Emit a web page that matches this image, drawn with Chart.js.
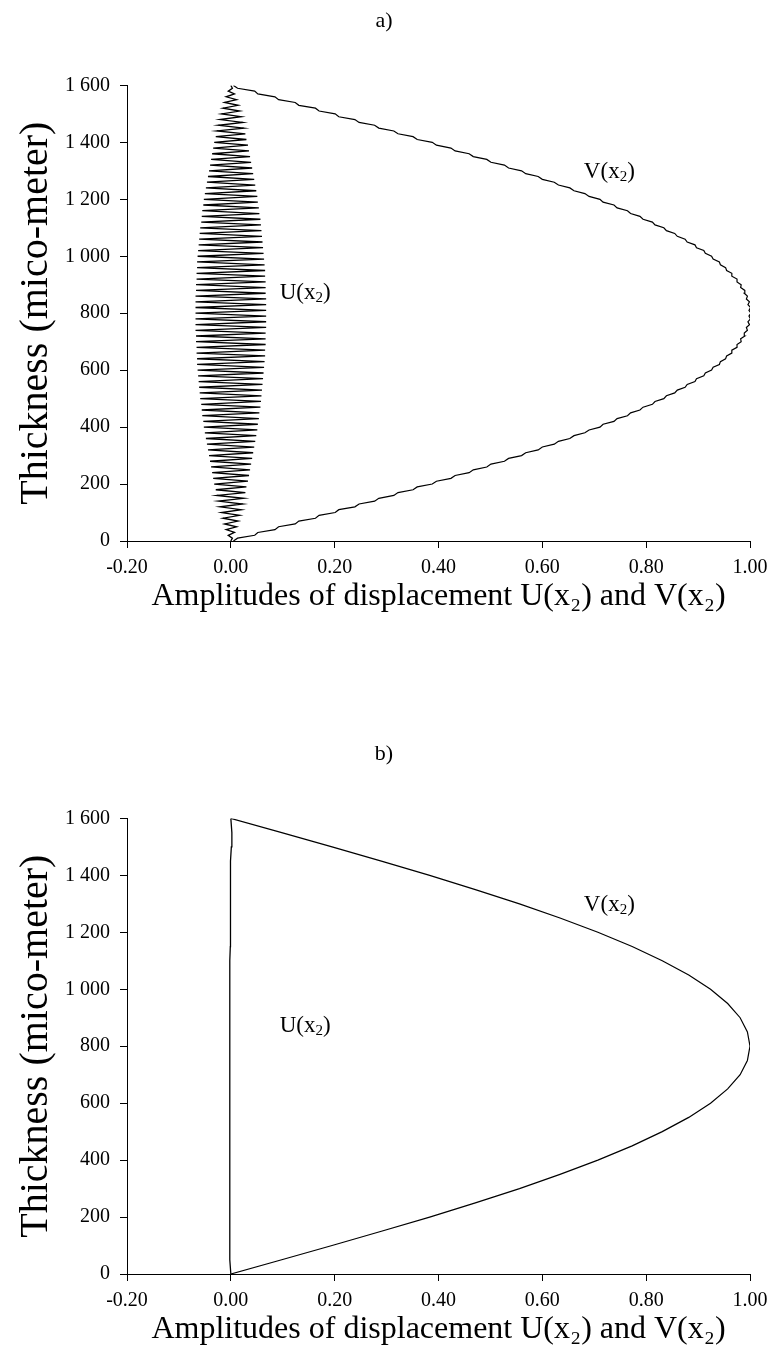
<!DOCTYPE html>
<html>
<head>
<meta charset="utf-8">
<script src="https://cdn.jsdelivr.net/npm/chart.js@4.4.1/dist/chart.umd.min.js"></script>
<style>
  body { margin: 0; background: #fff; }
  .panel { position: absolute; left: 0; width: 768px; height: 620px; }
  #panelA { top: 0; }
  #panelB { top: 733px; }
</style>
</head>
<body>
<div class="panel" id="panelA"><canvas id="chartA"></canvas></div>
<div class="panel" id="panelB"><canvas id="chartB"></canvas></div>
<script>
// Thickness (y) values, panel a
const thicknessA = [
  0, 10, 20, 30, 40, 50, 60, 70, 80, 90, 100, 110, 120, 130, 140, 150, 160, 170, 180, 190, 200,
  210, 220, 230, 240, 250, 260, 270, 280, 290, 300, 310, 320, 330, 340, 350, 360, 370, 380, 390, 400,
  410, 420, 430, 440, 450, 460, 470, 480, 490, 500, 510, 520, 530, 540, 550, 560, 570, 580, 590, 600,
  610, 620, 630, 640, 650, 660, 670, 680, 690, 700, 710, 720, 730, 740, 750, 760, 770, 780, 790, 800,
  810, 820, 830, 840, 850, 860, 870, 880, 890, 900, 910, 920, 930, 940, 950, 960, 970, 980, 990, 1000,
  1010, 1020, 1030, 1040, 1050, 1060, 1070, 1080, 1090, 1100, 1110, 1120, 1130, 1140, 1150, 1160, 1170, 1180, 1190, 1200,
  1210, 1220, 1230, 1240, 1250, 1260, 1270, 1280, 1290, 1300, 1310, 1320, 1330, 1340, 1350, 1360, 1370, 1380, 1390, 1400,
  1410, 1420, 1430, 1440, 1450, 1460, 1470, 1480, 1490, 1500, 1510, 1520, 1530, 1540, 1550, 1560, 1570, 1580, 1590, 1600
];
// U(x2) amplitude, panel a (zigzag)
const uA = [
  0, 0.003, -0.005, 0.007, -0.009, 0.011, -0.012, 0.014, -0.015, 0.017, -0.018, 0.020, -0.021, 0.023, -0.024, 0.025, -0.027, 0.028, -0.029, 0.030, -0.032,
  0.033, -0.034, 0.035, -0.036, 0.037, -0.038, 0.039, -0.040, 0.041, -0.042, 0.043, -0.044, 0.045, -0.046, 0.047, -0.048, 0.049, -0.050, 0.051, -0.052,
  0.052, -0.053, 0.054, -0.055, 0.055, -0.056, 0.057, -0.057, 0.058, -0.059, 0.059, -0.060, 0.060, -0.061, 0.061, -0.062, 0.062, -0.063, 0.063, -0.064,
  0.064, -0.065, 0.065, -0.065, 0.066, -0.066, 0.066, -0.066, 0.067, -0.067, 0.067, -0.067, 0.067, -0.068, 0.068, -0.068, 0.068, -0.068, 0.068, -0.068,
  0.068, -0.068, 0.068, -0.068, 0.068, -0.068, 0.067, -0.067, 0.067, -0.067, 0.067, -0.066, 0.066, -0.066, 0.066, -0.065, 0.065, -0.065, 0.064, -0.064,
  0.063, -0.063, 0.062, -0.062, 0.061, -0.061, 0.060, -0.060, 0.059, -0.059, 0.058, -0.057, 0.057, -0.056, 0.055, -0.055, 0.054, -0.053, 0.052, -0.052,
  0.051, -0.050, 0.049, -0.048, 0.047, -0.046, 0.045, -0.044, 0.043, -0.042, 0.041, -0.040, 0.039, -0.038, 0.037, -0.036, 0.035, -0.034, 0.033, -0.032,
  0.030, -0.029, 0.028, -0.027, 0.025, -0.024, 0.023, -0.021, 0.020, -0.018, 0.017, -0.015, 0.014, -0.012, 0.011, -0.009, 0.007, -0.005, 0.003, 0
];
// V(x2) amplitude, panel a (small steps)
const vA = [
  0.005, 0.013, 0.046, 0.052, 0.085, 0.092, 0.124, 0.131, 0.163, 0.170, 0.201, 0.208, 0.239, 0.247, 0.277, 0.285, 0.314, 0.322, 0.351, 0.359, 0.388,
  0.396, 0.424, 0.432, 0.459, 0.467, 0.493, 0.501, 0.527, 0.535, 0.560, 0.568, 0.592, 0.600, 0.623, 0.631, 0.653, 0.661, 0.682, 0.690, 0.711,
  0.717, 0.738, 0.744, 0.764, 0.770, 0.788, 0.794, 0.812, 0.817, 0.834, 0.839, 0.855, 0.860, 0.875, 0.879, 0.894, 0.897, 0.911, 0.914, 0.926,
  0.929, 0.941, 0.943, 0.953, 0.955, 0.965, 0.965, 0.975, 0.975, 0.983, 0.982, 0.990, 0.989, 0.995, 0.993, 0.999, 0.996, 1.001, 0.998, 1.002,
  0.998, 1.001, 0.996, 0.999, 0.993, 0.995, 0.989, 0.990, 0.982, 0.983, 0.975, 0.975, 0.965, 0.965, 0.955, 0.953, 0.943, 0.941, 0.929, 0.926,
  0.914, 0.911, 0.897, 0.894, 0.879, 0.875, 0.860, 0.855, 0.839, 0.834, 0.817, 0.812, 0.794, 0.788, 0.770, 0.764, 0.744, 0.738, 0.717, 0.711,
  0.690, 0.682, 0.661, 0.653, 0.631, 0.623, 0.600, 0.592, 0.568, 0.560, 0.535, 0.527, 0.501, 0.493, 0.467, 0.459, 0.432, 0.424, 0.396, 0.388,
  0.359, 0.351, 0.322, 0.314, 0.285, 0.277, 0.247, 0.239, 0.208, 0.201, 0.170, 0.163, 0.131, 0.124, 0.092, 0.085, 0.052, 0.046, 0.013, 0.005
];

// Panel b (smooth)
const thicknessB = [0, 50, 100, 150, 200, 250, 300, 350, 400, 450, 500, 550, 600, 650, 700, 750, 800,
  850, 900, 950, 1000, 1050, 1100, 1150, 1200, 1250, 1300, 1350, 1400, 1450, 1500, 1550, 1600];
const uB = [0, -0.002, -0.002, -0.002, -0.002, -0.002, -0.002, -0.002, -0.002, -0.002, -0.002, -0.002, -0.002, -0.002, -0.002, -0.002, -0.002,
  -0.002, -0.002, -0.002, -0.002, -0.002, -0.002, -0.001, -0.001, -0.001, -0.001, -0.001, 0, 0, 0.001, 0.002, 0];
const vB = [0, 0.098, 0.195, 0.290, 0.383, 0.471, 0.556, 0.634, 0.707, 0.773, 0.831, 0.882, 0.924, 0.957, 0.981, 0.995, 1.0,
  0.995, 0.981, 0.957, 0.924, 0.882, 0.831, 0.773, 0.707, 0.634, 0.556, 0.471, 0.383, 0.290, 0.195, 0.098, 0];

// Axis ticks
const xTicks = [-0.2, 0, 0.2, 0.4, 0.6, 0.8, 1.0];
const yTicks = [0, 200, 400, 600, 800, 1000, 1200, 1400, 1600];

// Curve label positions (data units)
const labelNames = ["U", "V"];
const labelX = [0.094, 0.68];
const labelY = [870, 1295];

const serif = "'Liberation Serif', 'Times New Roman', serif";

function toPoints(xs, ys) {
  return xs.map((x, i) => ({ x: x, y: ys[i] }));
}

function fmtThickness(v) {
  if (v >= 1000) return Math.floor(v / 1000) + " " + String(v % 1000).padStart(3, "0");
  return String(v);
}

// draws "U(x2)" style labels with a real subscript
const curveLabels = {
  id: "curveLabels",
  afterDatasetsDraw(chart) {
    const { ctx, scales: { x, y } } = chart;
    ctx.save();
    ctx.fillStyle = "#000";
    ctx.textBaseline = "middle";
    ctx.textAlign = "left";
    labelNames.forEach((name, i) => {
      let px = x.getPixelForValue(labelX[i]);
      const py = y.getPixelForValue(labelY[i]);
      ctx.font = "23px " + serif;
      const head = name + "(x";
      ctx.fillText(head, px, py);
      px += ctx.measureText(head).width;
      ctx.font = "15px " + serif;
      ctx.fillText("2", px, py + 5);
      px += ctx.measureText("2").width;
      ctx.font = "23px " + serif;
      ctx.fillText(")", px, py);
    });
    ctx.restore();
  }
};

function makeChart(id, title, uData, vData, ys) {
  const ctx = document.getElementById(id).getContext("2d");
  return new Chart(ctx, {
    type: "scatter",
    data: {
      datasets: [
        { label: "U(x2)", data: toPoints(uData, ys), showLine: true, borderColor: "#000", borderWidth: 1.3, pointRadius: 0, tension: 0 },
        { label: "V(x2)", data: toPoints(vData, ys), showLine: true, borderColor: "#000", borderWidth: 1.2, pointRadius: 0, tension: 0 }
      ]
    },
    options: {
      responsive: true,
      maintainAspectRatio: false,
      animation: false,
      layout: { padding: { left: 0, right: 0, top: 0, bottom: 0 } },
      plugins: {
        legend: { display: false },
        tooltip: { enabled: false },
        title: {
          display: true,
          text: title,
          color: "#000",
          font: { family: serif, size: 22, weight: "normal" },
          padding: { top: 8, bottom: 51 }
        }
      },
      scales: {
        x: {
          type: "linear",
          min: -0.2,
          max: 1.0,
          afterBuildTicks: scale => { scale.ticks = xTicks.map(v => ({ value: v })); },
          afterFit: scale => { scale.height = 79; scale.paddingRight = 18; },
          ticks: {
            color: "#000",
            padding: 8,
            font: { family: serif, size: 20 },
            callback: v => Number(v).toFixed(2)
          },
          grid: { drawOnChartArea: false, drawTicks: true, tickLength: 7, color: "#000" },
          border: { color: "#000", width: 1 },
          title: {
            display: true,
            text: "Amplitudes of displacement U(x\u2082) and V(x\u2082)",
            color: "#000",
            font: { family: serif, size: 32 },
            padding: { top: 0, bottom: 4 }
          }
        },
        y: {
          type: "linear",
          min: 0,
          max: 1600,
          afterBuildTicks: scale => { scale.ticks = yTicks.map(v => ({ value: v })); },
          afterFit: scale => { scale.width = 127; },
          ticks: {
            color: "#000",
            padding: 10,
            font: { family: serif, size: 20 },
            callback: v => fmtThickness(v)
          },
          grid: { drawOnChartArea: false, drawTicks: true, tickLength: 7, color: "#000" },
          border: { color: "#000", width: 1 },
          title: {
            display: true,
            text: "Thickness (mico-meter)",
            color: "#000",
            font: { family: serif, size: 40 },
            padding: { top: 12, bottom: 0 }
          }
        }
      }
    },
    plugins: [curveLabels]
  });
}

makeChart("chartA", "a)", uA, vA, thicknessA);
makeChart("chartB", "b)", uB, vB, thicknessB);
</script>
</body>
</html>
